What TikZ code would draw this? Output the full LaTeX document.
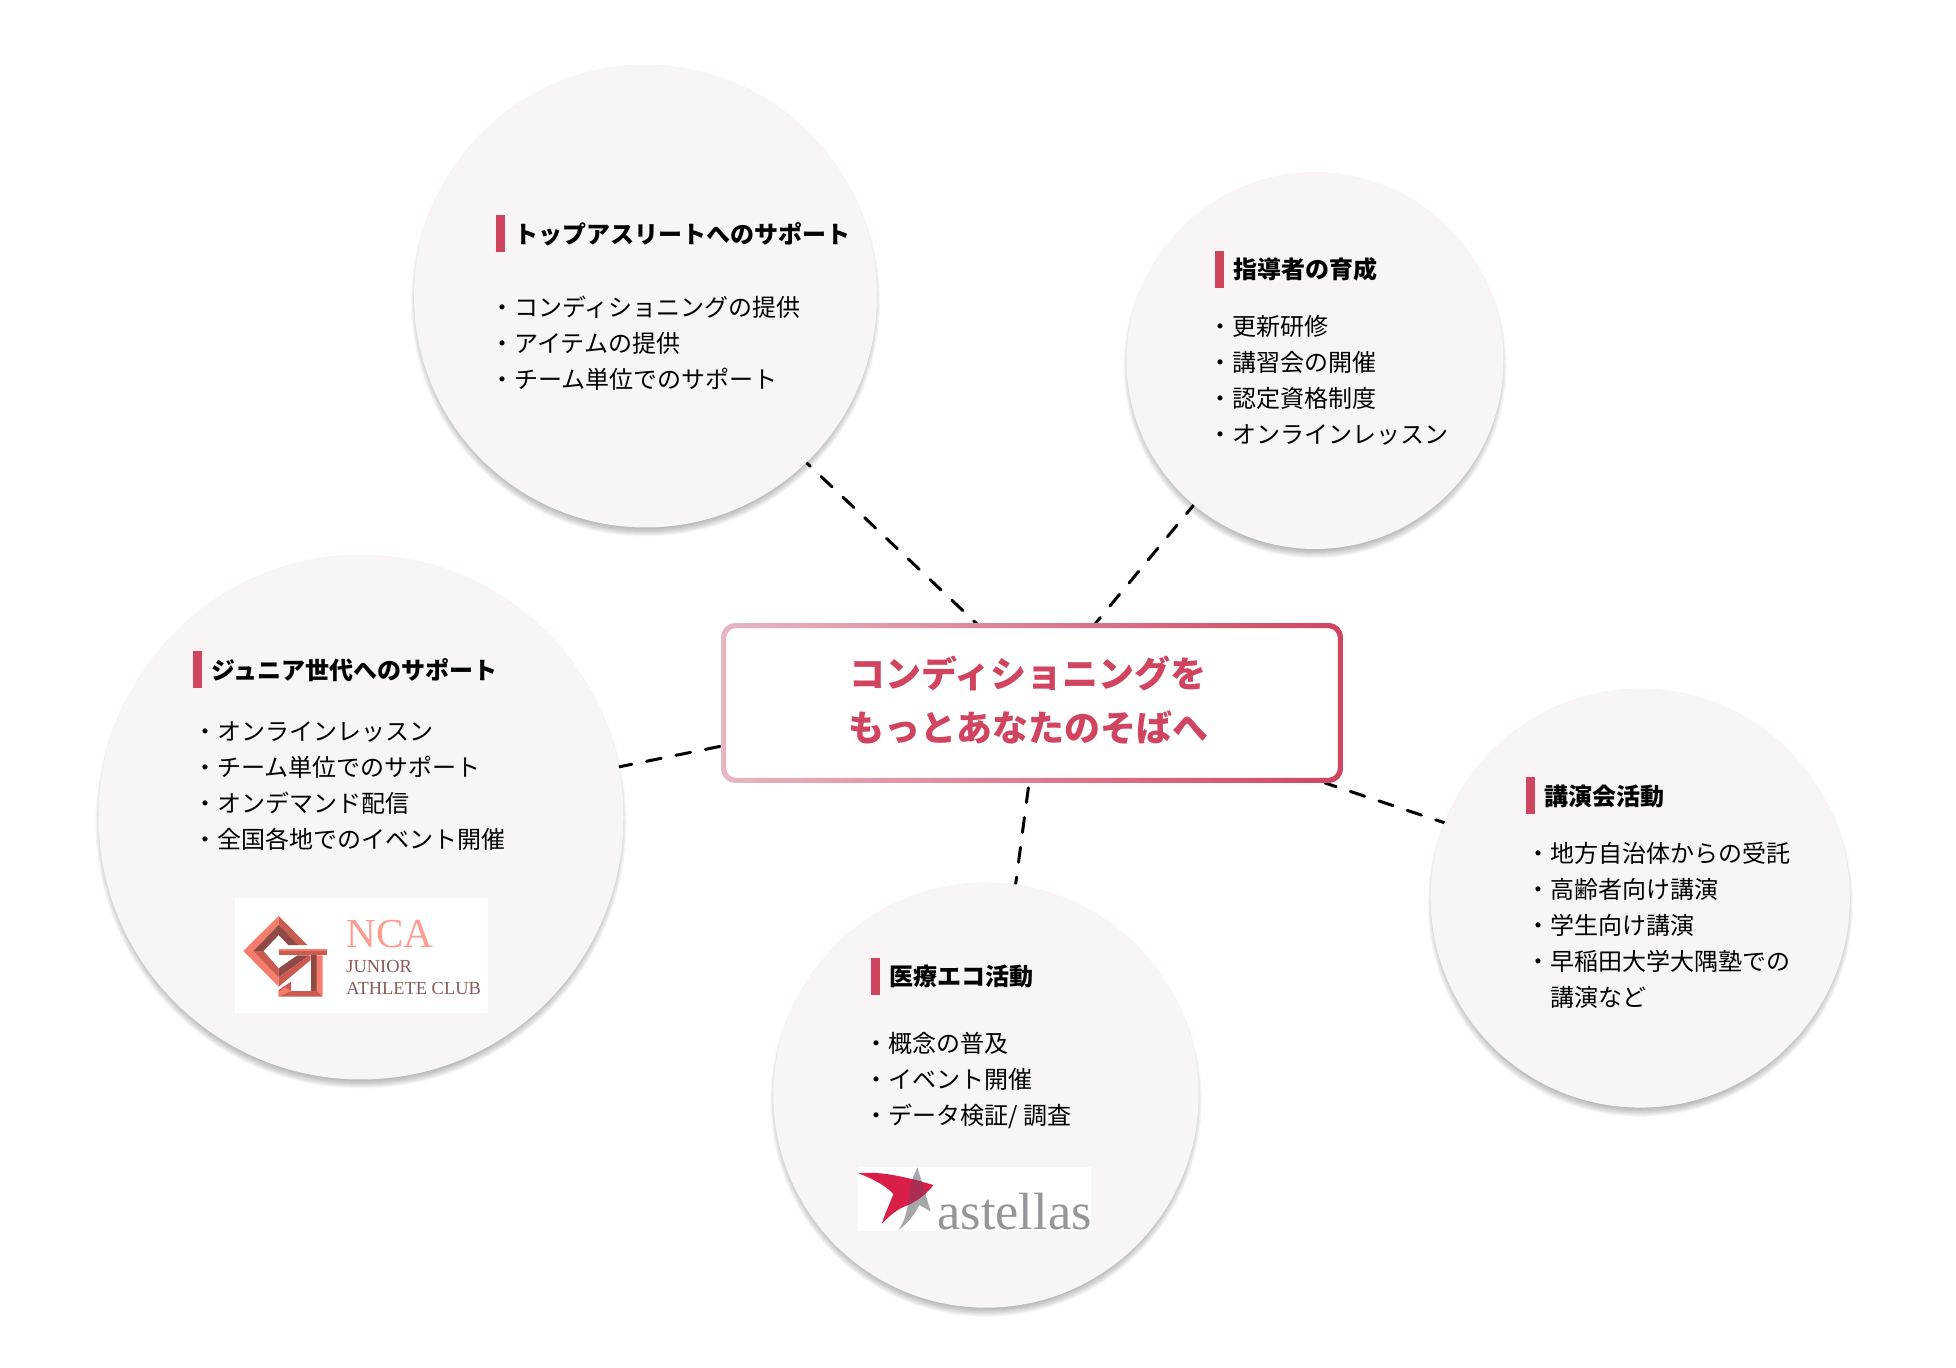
\documentclass[tikz,border=0pt]{standalone}
\usepackage{fontspec}
\usetikzlibrary{backgrounds}
\setmainfont{Noto Sans CJK JP}
\newfontfamily\logoserif{Liberation Serif}
\definecolor{bubblefill}{HTML}{F8F5F4}
\definecolor{accent}{HTML}{D0445F}
\definecolor{accentpale}{HTML}{E7B6C3}
\definecolor{ncalight}{HTML}{F67C6C}
\definecolor{ncamid}{HTML}{CB5B4F}
\definecolor{ncadark}{HTML}{8F4A46}
\definecolor{ncatext}{HTML}{FF9C90}
\definecolor{ncasub}{HTML}{8A5A58}
\definecolor{astred}{HTML}{D91F47}
\definecolor{astgray}{HTML}{A5A7AA}
\definecolor{astmix}{HTML}{AB2E52}
\tikzset{
  shadowlayer/.style={fill=black,fill opacity=.035},
  bubble/.style={circle,inner sep=0pt,fill=bubblefill,minimum size=#1},
  link/.style={black,line width=1.5pt,line cap=round,dash pattern=on 7.5pt off 7.5pt},
  headbar/.style={fill=accent,inner sep=0pt,minimum width=4.5pt,minimum height=18.5pt},
  headtext/.style={anchor=base west,inner sep=0pt,font={\fontsize{12}{18}\selectfont\bfseries}},
  listtext/.style={anchor=north west,inner sep=0pt,align=left,font={\fontsize{12}{18}\selectfont}},
  logobox/.style={fill=white,inner sep=0pt},
  titlebox/.style={rectangle,inner sep=0pt,minimum width=310.5pt,minimum height=79.5pt,fill=white,rounded corners=7pt},
  titletext/.style={inner sep=0pt,text=accent,align=center,font={\fontsize{18}{26.7}\selectfont\bfseries}},
}
\newcommand{\li}[1]{\strut・#1}
\newcommand{\softdisc}[3]{\foreach \d in {-5,...,3}{\fill[shadowlayer] (#1,#2+6) circle [radius={(#3+\d)*0.5pt}];}}
\begin{document}
\begin{tikzpicture}[x=0.5pt,y=-0.5pt]
\useasboundingbox (0,0) rectangle (1956,1368);

\softdisc{645.5}{296}{231.5}
\softdisc{1315}{360.5}{188.5}
\softdisc{361}{817}{262.5}
\softdisc{1640.3}{898}{209.6}
\softdisc{986}{1095}{212.7}

\node[titlebox] (core) at (1032,703) {};
\node[bubble=231.5pt] (top) at (645.5,296) {};
\node[bubble=188.5pt] (coach) at (1315,360.5) {};
\node[bubble=262.5pt] (junior) at (361,817) {};
\node[bubble=209.6pt] (talk) at (1640.3,898) {};
\node[bubble=212.7pt] (med) at (986,1095) {};

% connectors, beneath the nodes
\coordinate (c1) at (977,624);
\coordinate (c2) at (1095,624);
\coordinate (c3) at (722,746);
\coordinate (c4) at (1029,783);
\coordinate (c5) at (1325,783);
\begin{pgfonlayer}{background}
\draw[link,dash phase=5pt] (top.-46.5) -- (c1);
\draw[link,dash phase=2pt] (coach.-130.7) -- (c2);
\draw[link,dash phase=1pt] (junior.11) -- (c3);
\draw[link,dash phase=4pt] (med.82.5) -- (c4);
\draw[link,dash phase=3pt] (talk.159.3) -- (c5);
\end{pgfonlayer}

\shade[left color=accentpale,right color=accent,even odd rule]
  [rounded corners=7pt] (core.north west) rectangle (core.south east)
  [rounded corners=5pt] ([xshift=2.5pt,yshift=-2.5pt]core.north west) rectangle ([xshift=-2.5pt,yshift=2.5pt]core.south east);
\node[titletext] (title) at (1028,700) {コンディショニングを\\もっとあなたのそばへ};

% top bubble
\node[headbar] (b1) at (500.5,233.5) {};
\node[headtext] (h1) at (514,243.5) {トップアスリートへのサポート};
\node[listtext] (l1) at (490,290.8) {\li{コンディショニングの提供}\\\li{アイテムの提供}\\\li{チーム単位でのサポート}};

% coach bubble
\node[headbar] (b2) at (1219.5,269.5) {};
\node[headtext] (h2) at (1233,278.5) {指導者の育成};
\node[listtext] (l2) at (1208,309.8) {\li{更新研修}\\\li{講習会の開催}\\\li{認定資格制度}\\\li{オンラインレッスン}};

% junior bubble
\node[headbar] (b3) at (197.5,669.5) {};
\node[headtext] (h3) at (211,680) {ジュニア世代へのサポート};
\node[listtext] (l3) at (193,714.8) {\li{オンラインレッスン}\\\li{チーム単位でのサポート}\\\li{オンデマンド配信}\\\li{全国各地でのイベント開催}};

% talk bubble
\node[headbar] (b4) at (1530.5,795.5) {};
\node[headtext] (h4) at (1544,806) {講演会活動};
\node[listtext] (l4) at (1526,836.8) {\li{地方自治体からの受託}\\\li{高齢者向け講演}\\\li{学生向け講演}\\\li{早稲田大学大隅塾での}\\\strut\hspace*{12pt}講演など};

% medical bubble
\node[headbar] (b5) at (875.5,976.5) {};
\node[headtext] (h5) at (889,986) {医療エコ活動};
\node[listtext] (l5) at (864,1026.8) {\li{概念の普及}\\\li{イベント開催}\\\li{データ検証/ 調査}};

% NCA logo
\node[logobox,minimum width=126.5pt,minimum height=57.5pt,anchor=north west] (ncalogo) at (235,898) {};
\begin{scope}[shift={(220,880)},x=0.16667pt,y=-0.16667pt]
  \fill[ncalight] (70,213) -- (176,108) -- (176,135) -- (100,213) -- cycle;
  \fill[ncamid] (176,108) -- (262,195) -- (235,195) -- (176,135) -- cycle;
  \fill[ncalight] (70,213) -- (100,213) -- (176,292) -- (176,320) -- cycle;
  \fill[ncadark] (100,213) -- (176,135) -- (235,195) -- (205,195) -- (176,165) -- (130,213) -- cycle;
  \fill[ncamid] (100,213) -- (130,213) -- (176,265) -- (176,292) -- cycle;
  \fill[ncadark] (176,265) -- (232,226) -- (268,226) -- (176,292) -- cycle;
  \fill[ncamid] (176,292) -- (268,226) -- (272,226) -- (272,240) -- (176,320) -- cycle;
  \fill[ncalight] (176,207) -- (322,207) -- (322,213) -- (176,213) -- cycle;
  \fill[ncamid] (176,213) -- (322,213) -- (322,226) -- (176,226) -- cycle;
  \fill[ncadark] (272,226) -- (290,226) -- (290,333) -- (272,333) -- cycle;
  \fill[ncalight] (290,226) -- (308,226) -- (308,350) -- (290,333) -- cycle;
  \fill[ncamid] (176,350) -- (308,350) -- (290,333) -- (213,333) -- (213,305) -- (176,330) -- cycle;
  \fill[ncalight] (176,350) -- (213,333) -- (195,322) -- (176,336) -- cycle;
\end{scope}
\node[inner sep=0pt,anchor=base west,text=ncatext,font={\logoserif\fontsize{20.6}{20}\selectfont}] (nca) at (346,948) {NCA};
\node[inner sep=0pt,anchor=base west,text=ncasub,font={\logoserif\fontsize{9.2}{9}\selectfont}] (ncaj) at (346,973) {JUNIOR};
\node[inner sep=0pt,anchor=base west,text=ncasub,font={\logoserif\fontsize{9.2}{9}\selectfont}] (ncaa) at (346,995) {ATHLETE CLUB};

% astellas logo
\node[logobox,minimum width=116.5pt,minimum height=32pt,anchor=north west] (astlogo) at (858,1167) {};
\begin{scope}[shift={(840,1150)},x=0.16667pt,y=-0.16667pt]
  \fill[astgray] (232,52) .. controls (222,75) and (214,90) .. (210,115) .. controls (206,170) and (195,215) .. (175,240) .. controls (205,220) and (225,190) .. (238,165) .. controls (250,172) and (262,178) .. (272,185) .. controls (262,150) and (250,110) .. (232,52) -- cycle;
  \fill[astred] (55,70) .. controls (130,62) and (210,85) .. (280,105) .. controls (262,130) and (235,150) .. (205,165) .. controls (175,175) and (150,195) .. (125,222) .. controls (135,190) and (150,160) .. (160,132) .. controls (135,105) and (95,85) .. (55,70) -- cycle;
  \begin{scope}
    \clip (232,52) .. controls (222,75) and (214,90) .. (210,115) .. controls (206,170) and (195,215) .. (175,240) .. controls (205,220) and (225,190) .. (238,165) .. controls (250,172) and (262,178) .. (272,185) .. controls (262,150) and (250,110) .. (232,52) -- cycle;
    \fill[astmix] (55,70) .. controls (130,62) and (210,85) .. (280,105) .. controls (262,130) and (235,150) .. (205,165) .. controls (175,175) and (150,195) .. (125,222) .. controls (135,190) and (150,160) .. (160,132) .. controls (135,105) and (95,85) .. (55,70) -- cycle;
  \end{scope}
\end{scope}
\node[inner sep=0pt,anchor=base west,text=astgray!90!black,font={\logoserif\fontsize{26.2}{26}\selectfont}] (ast) at (937,1229) {astellas};
\end{tikzpicture}
\end{document}
